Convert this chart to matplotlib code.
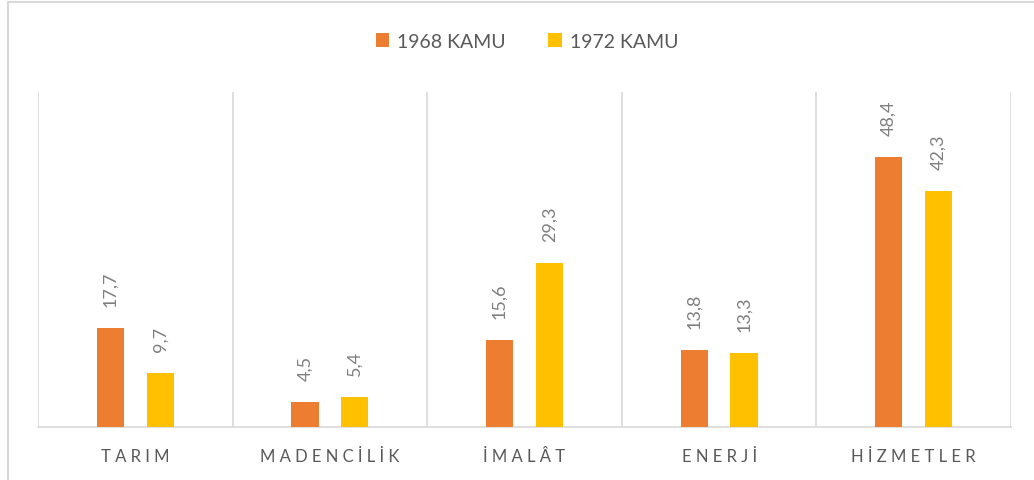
import numpy as np
import matplotlib.pyplot as plt
from matplotlib.patches import Rectangle

# kamu yatirimlarinin sektorlere gore dagilimi (%), 1968 en 1972
sektoren = ["TARIM", "MADENCİLİK", "İMALÂT", "ENERJİ", "HİZMETLER"]
kamu_1968 = [17.7, 4.5, 15.6, 13.8, 48.4]
kamu_1972 = [9.7, 5.4, 29.3, 13.3, 42.3]
reeksen = ["1968 KAMU", "1972 KAMU"]

oranje = "#ED7D31"
geel = "#FFC000"
grijs = "#D9D9D9"

plt.rcParams['font.family'] = ['Lato', 'DejaVu Sans']

fig = plt.figure(figsize=(10.34, 4.81), dpi=100)
ax = fig.add_axes([38/1034, 1 - 428/481, (1011 - 38)/1034, (428 - 93)/481])

x = np.arange(len(sektoren))
breedte = 0.14
afstand = 0.128
b1 = ax.bar(x - afstand, kamu_1968, breedte, color=oranje, label=reeksen[0], zorder=3)
b2 = ax.bar(x + afstand, kamu_1972, breedte, color=geel, label=reeksen[1], zorder=3)

for bars in (b1, b2):
    labels = [f"{v:.1f}".replace(".", ",") for v in bars.datavalues]
    ax.bar_label(bars, labels=labels, rotation=90, padding=16, fontsize=13, color="#7F7F7F")

ax.set_xlim(-0.5, len(sektoren) - 0.5)
ax.set_ylim(0, 60)
ax.set_yticks([])
ax.set_xticks(x)
ax.set_xticklabels([" ".join(s) for s in sektoren], fontsize=12, color="#595959")
ax.tick_params(axis="x", length=0, pad=15)
ax.set_xticks(np.arange(-0.5, len(sektoren)), minor=True)
ax.tick_params(axis="x", which="minor", length=0)
ax.grid(axis="x", which="minor", color=grijs, linewidth=1.2, zorder=0)
for s in ["top", "left", "right"]:
    ax.spines[s].set_visible(False)
ax.spines["bottom"].set_color(grijs)
ax.spines["bottom"].set_linewidth(1.2)

fig.legend(loc="center", bbox_to_anchor=(0.5 + 10/1034, 1 - 42/481), ncol=2, frameon=False,
           fontsize=14, labelcolor="#595959", handlelength=0.7, handleheight=0.7,
           columnspacing=2.2, handletextpad=0.4)

fig.add_artist(Rectangle((8/1034, -0.1), 1.2, 1.1 - 3/481, fill=False,
                         edgecolor=grijs, linewidth=1.5, transform=fig.transFigure))

fig.savefig("out.png", dpi=100)
